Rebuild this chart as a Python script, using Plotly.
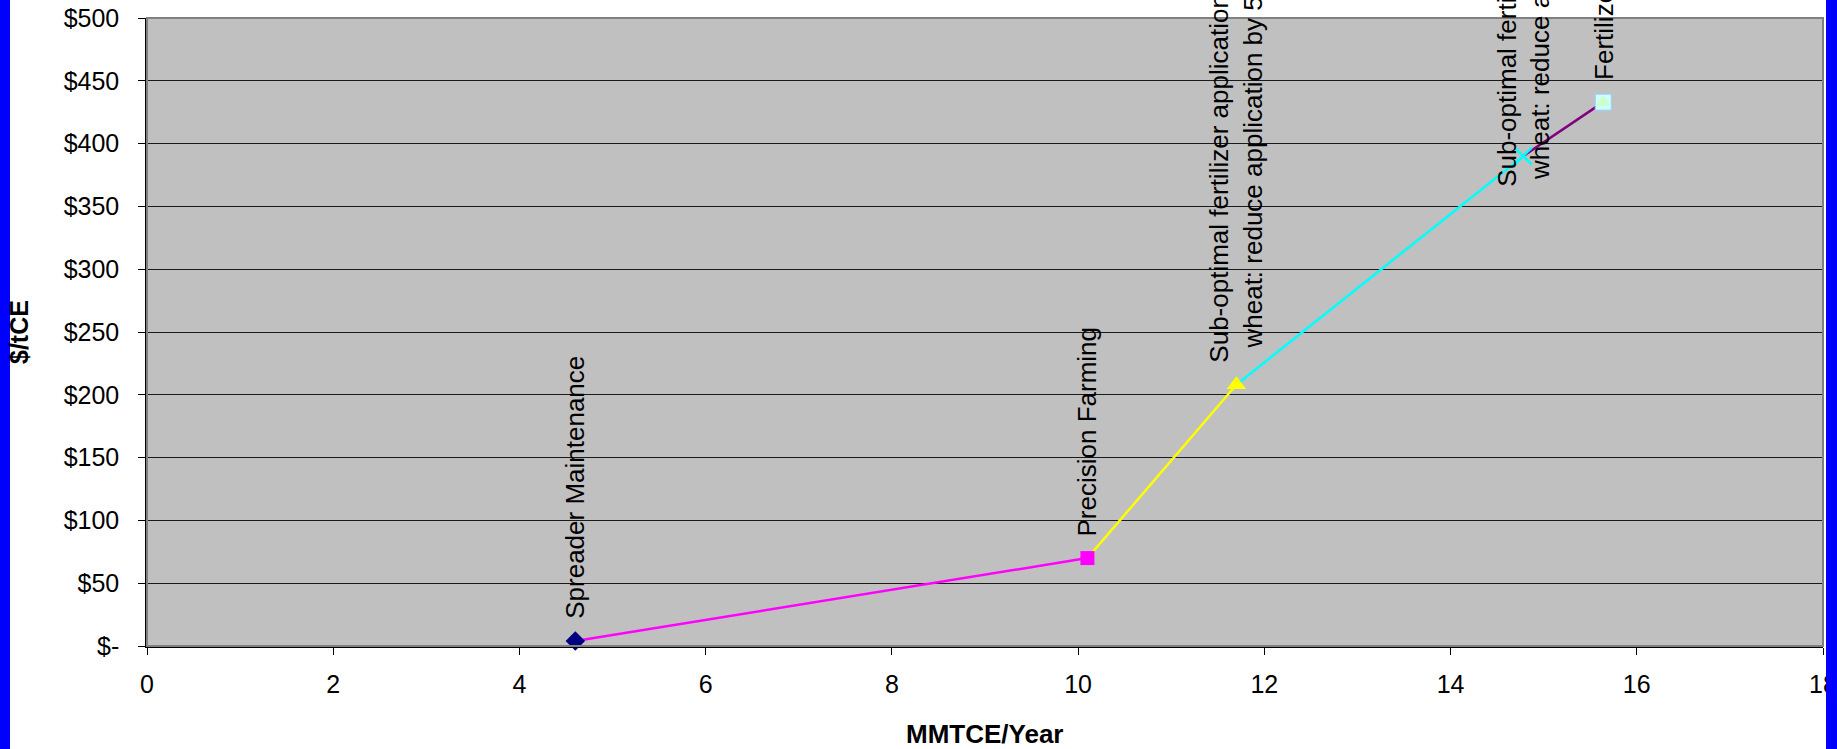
import plotly.graph_objects as go

# Mitigation measures: cumulative reduction (MMTCE/Year) vs. cost ($/tCE)
measures = [
    "Spreader Maintenance",
    "Precision Farming",
    "Sub-optimal fertilizer application on<br>wheat: reduce application by 5%",
    "Sub-optimal fertilizer application on<br>wheat: reduce application by 10%",
    "Fertilizer Tax",
]
mmtce = [4.6, 10.1, 11.7, 14.78, 15.64]
cost = [4, 70, 208, 390, 433]

y_ticks = [0, 50, 100, 150, 200, 250, 300, 350, 400, 450, 500]
y_tick_text = ["$-", "$50", "$100", "$150", "$200", "$250", "$300", "$350", "$400", "$450", "$500"]
x_ticks = [0, 2, 4, 6, 8, 10, 12, 14, 16, 18]

series_colors = ["#000080", "#FF00FF", "#FFFF00", "#00FFFF", "#800080"]
# vertical pixel offset of each rotated label from its marker
label_shift = [20, 20, 20, -33, 20]
FONT = "Liberation Sans, Arial, sans-serif"

W, H = 1837, 749
ML, MR, MT, MB = 147, 14, 18, 103
PW = W - ML - MR
PH = H - MT - MB

fig = go.Figure()

# step segments: each measure is joined to the previous one in its own colour
for i in range(1, len(mmtce)):
    fig.add_trace(go.Scatter(
        x=[mmtce[i - 1], mmtce[i]], y=[cost[i - 1], cost[i]],
        mode="lines", line=dict(color=series_colors[i], width=2.5),
        hoverinfo="skip", showlegend=False,
    ))

marker_styles = [
    dict(symbol="diamond", size=15, color="#000080"),
    dict(symbol="square", size=14, color="#FF00FF"),
    dict(symbol="triangle-up", size=17, color="#FFFF00"),
    dict(symbol="x-thin", size=17, color="#00FFFF", line=dict(color="#00FFFF", width=2.5)),
    dict(symbol="square", size=16, color="#CCFFFF", line=dict(color="#99CCFF", width=1)),
]
for i, ms in enumerate(marker_styles):
    fig.add_trace(go.Scatter(
        x=[mmtce[i]], y=[cost[i]], mode="markers", marker=ms,
        name=measures[i], showlegend=False, cliponaxis=False,
    ))
# inner triangle of the last marker
fig.add_trace(go.Scatter(
    x=[mmtce[-1]], y=[cost[-1]], mode="markers",
    marker=dict(symbol="triangle-up", size=14, color="#CCFFCC"),
    hoverinfo="skip", showlegend=False, cliponaxis=False,
))

annotations = []
for name, xv, yv, dy in zip(measures, mmtce, cost, label_shift):
    annotations.append(dict(
        x=xv, y=yv, xref="x", yref="y", text=name, showarrow=False,
        textangle=-90, xanchor="center", yanchor="bottom", yshift=dy,
        align="center", font=dict(family=FONT, size=26, color="black"),
    ))

annotations.append(dict(
    x=0, y=0.5, xref="paper", yref="paper", text="<b>$/tCE</b>", showarrow=False,
    textangle=-90, xanchor="center", yanchor="middle", xshift=19 - ML,
    font=dict(family=FONT, size=25, color="black"),
))
annotations.append(dict(
    x=0.5, y=0, xref="paper", yref="paper", text="<b>MMTCE/Year</b>", showarrow=False,
    xanchor="center", yanchor="middle", yshift=-88,
    font=dict(family=FONT, size=26, color="black"),
))

shapes = [
    # plot frame
    dict(type="rect", xref="paper", yref="paper", x0=0, x1=1, y0=0, y1=1,
         line=dict(color="#808080", width=2), layer="above"),
    # blue side bands
    dict(type="rect", xref="paper", yref="paper",
         x0=(0 - ML) / PW - 0.01, x1=(10 - ML) / PW, y0=-MB / PH - 0.1, y1=1 + MT / PH + 0.1,
         fillcolor="#0000FF", line=dict(width=0), layer="above"),
    dict(type="rect", xref="paper", yref="paper",
         x0=(1826 - ML) / PW, x1=(W - ML) / PW + 0.01, y0=-MB / PH - 0.1, y1=1 + MT / PH + 0.1,
         fillcolor="#0000FF", line=dict(width=0), layer="above"),
]

fig.update_layout(
    width=W, height=H, autosize=False,
    margin=dict(l=ML, r=MR, t=MT, b=MB, pad=0, autoexpand=False),
    paper_bgcolor="white", plot_bgcolor="#C0C0C0",
    font=dict(family=FONT, size=25, color="black"),
    annotations=annotations, shapes=shapes, showlegend=False,
    xaxis=dict(
        range=[0, 18], tickvals=x_ticks, ticks="outside", ticklen=7,
        tickcolor="black", showline=True, linecolor="black", linewidth=1.5,
        showgrid=False, zeroline=False, tickfont=dict(size=25),
        ticklabelstandoff=8, automargin=False,
    ),
    yaxis=dict(
        range=[0, 500], tickvals=y_ticks, ticktext=y_tick_text, ticks="outside",
        ticklen=7, tickcolor="black", showline=True, linecolor="black",
        linewidth=1.5, showgrid=True, gridcolor="#1a1a1a", gridwidth=1,
        zeroline=False, tickfont=dict(size=25), ticklabelstandoff=14,
        automargin=False,
    ),
)

fig.write_html("out.html")
